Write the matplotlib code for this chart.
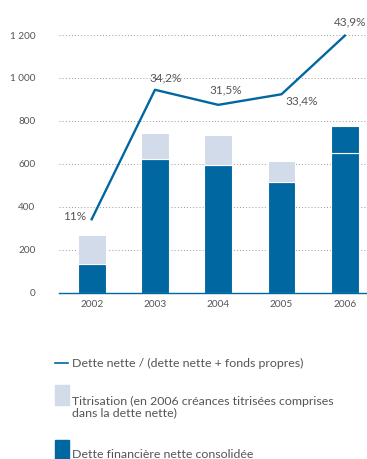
import matplotlib
matplotlib.use("Agg")
import matplotlib.pyplot as plt
from matplotlib.lines import Line2D
from matplotlib.patches import Rectangle

plt.rcParams['font.family'] = ['Lato', 'DejaVu Sans']

# Data (millions d'euros)
annees = ["2002", "2003", "2004", "2005", "2006"]
dette_financiere = [135, 621, 595, 514, 649]
titrisation = [135, 124, 138, 98, 127]
ratio_pct = [11.0, 34.2, 31.5, 33.4, 43.9]
ratio_labels = ["11%", "34,2%", "31,5%", "33,4%", "43,9%"]
yticks = [0, 200, 400, 600, 800, 1000, 1200]
ytick_labels = ["0", "200", "400", "600", "800", "1 000", "1 200"]

BLUE = "#0067a1"
LIGHT = "#d2dbea"
GREY = "#555555"

fig = plt.figure(figsize=(3.67, 4.59), dpi=100)
ax = fig.add_axes([0.1608, 0.3623, 0.8392, 0.6157])

x = list(range(len(annees)))
w = 0.44
ax.bar(x, dette_financiere, width=w, color=BLUE, edgecolor="white",
       linewidth=0.8, zorder=2)
# 2006: securitised receivables are included in net debt
top_colors = [LIGHT, LIGHT, LIGHT, LIGHT, BLUE]
ax.bar(x, titrisation, bottom=dette_financiere, width=w, color=top_colors,
       edgecolor="white", linewidth=0.8, zorder=2)

ax.set_xlim(-0.516, 4.35)
ax.set_ylim(0, 1316)
ax.set_yticks(yticks)
ax.set_yticklabels(ytick_labels)
ax.set_xticks(x)
ax.set_xticklabels(annees)
ax.tick_params(axis="y", length=0, pad=17, labelsize=7.2, labelcolor=GREY)
ax.tick_params(axis="x", length=0, pad=5, labelsize=7.2, labelcolor=GREY)
for yv in yticks[1:]:
    ax.axhline(yv, color="#9a9a9a", linestyle=(0, (1, 2.2)), linewidth=0.7,
               zorder=1)
for s in ["top", "right", "left"]:
    ax.spines[s].set_visible(False)
ax.spines["bottom"].set_color(BLUE)
ax.spines["bottom"].set_linewidth(1.0)
ax.spines["bottom"].set_zorder(3)

# Ratio line on its own scale
ax2 = ax.twinx()
a, b = 56.1, 25.99
ax2.set_ylim((0 - a) / b, (1316 - a) / b)
ax2.plot(x, ratio_pct, color=BLUE, linewidth=1.7, zorder=4)
ax2.set_axis_off()
offsets = [(-5, 3, "right"), (11, 12, "center"), (7, 15, "center"),
           (20, -7, "center"), (5, 14, "center")]
for xi, p, lab, (dx, dy, ha) in zip(x, ratio_pct, ratio_labels, offsets):
    ax2.annotate(lab, (xi, p), xytext=(dx, dy), textcoords="offset pixels",
                 ha=ha, va="center", fontsize=8.5, color=GREY,
                 annotation_clip=False)

# Legend
H = 459.0
W = 367.0
def fy(py):
    return 1 - py / H
def fx(px):
    return px / W

LEG_FS = 8.9
fig.add_artist(Line2D([fx(55), fx(68)], [fy(363), fy(363)], color=BLUE,
                      linewidth=1.2, transform=fig.transFigure))
fig.text(fx(72), fy(363), "Dette nette / (dette nette + fonds propres)",
         fontsize=LEG_FS, color=GREY, va="center", ha="left")
fig.add_artist(Rectangle((fx(55), fy(405)), fx(14), 20 / H, color=LIGHT,
                         transform=fig.transFigure))
fig.text(fx(72), fy(401), "Titrisation (en 2006 créances titrisées comprises",
         fontsize=LEG_FS, color=GREY, va="center", ha="left")
fig.text(fx(72), fy(413), "dans la dette nette)",
         fontsize=LEG_FS, color=GREY, va="center", ha="left")
fig.add_artist(Rectangle((fx(55), fy(462)), fx(14), 22 / H, color=BLUE,
                         transform=fig.transFigure))
fig.text(fx(72), fy(454), "Dette financière nette consolidée",
         fontsize=LEG_FS, color=GREY, va="center", ha="left")

fig.savefig("out.png", dpi=100)
